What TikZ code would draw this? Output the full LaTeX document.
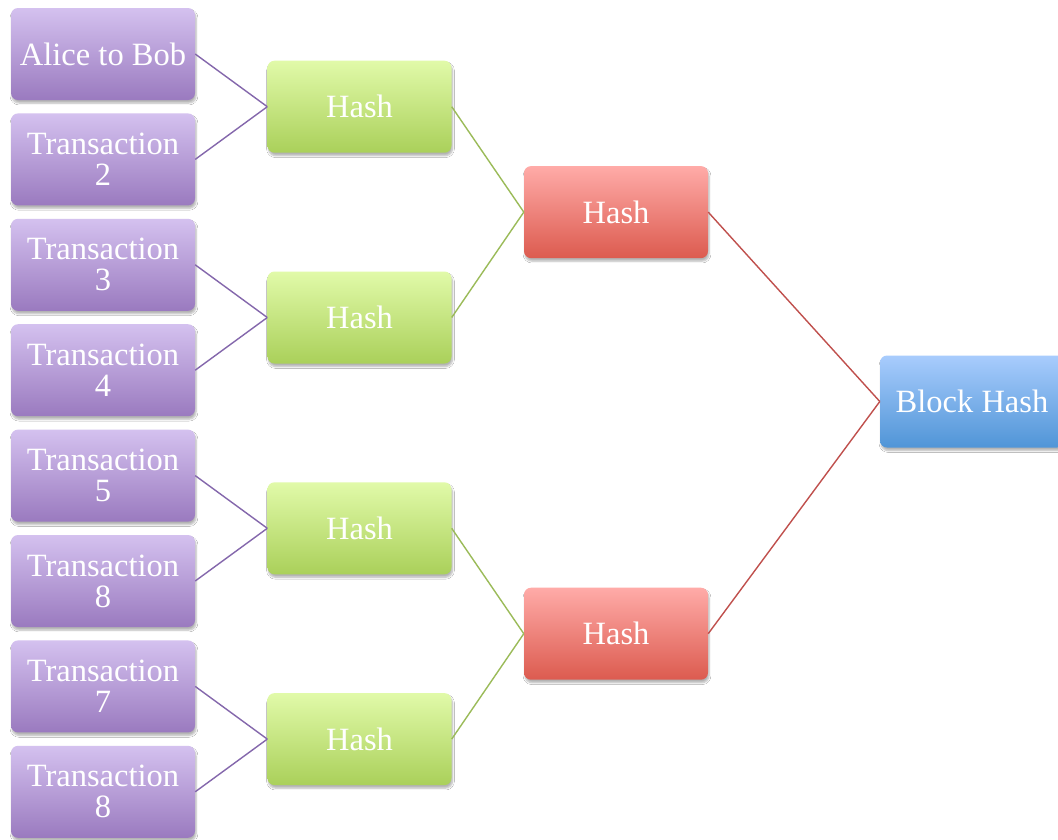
\documentclass[tikz,border=0pt]{standalone}
\usepackage{fontspec}
\setmainfont{Liberation Serif}
\usetikzlibrary{shadows.blur}

\definecolor{txTop}{HTML}{D4C1EF}
\definecolor{txBot}{HTML}{9A7ABF}
\definecolor{txLine}{HTML}{8467AC}
\definecolor{hgTop}{HTML}{E1FAA9}
\definecolor{hgBot}{HTML}{AAD05A}
\definecolor{hgLine}{HTML}{9BBB59}
\definecolor{hrTop}{HTML}{FFABA8}
\definecolor{hrBot}{HTML}{DC5B4F}
\definecolor{hrLine}{HTML}{C0504D}
\definecolor{bbTop}{HTML}{A8CCFD}
\definecolor{bbBot}{HTML}{5095D7}

\tikzset{
  x=1pt, y=-1pt,
  box/.style={rectangle, rounded corners=7pt, minimum width=184pt, minimum height=92pt,
    inner sep=0pt, align=center, text=white, font=\fontsize{32.5}{31}\selectfont,
    blur shadow={shadow xshift=1pt, shadow yshift=-3pt, shadow blur steps=6,
      shadow blur extra rounding=2pt, shadow opacity=30}},
  txbox/.style={box, top color=txTop, bottom color=txBot},
  hgbox/.style={box, top color=hgTop, bottom color=hgBot},
  hrbox/.style={box, top color=hrTop, bottom color=hrBot},
  bbbox/.style={box, top color=bbTop, bottom color=bbBot},
  link/.style={line width=1.4pt}
}

\begin{document}
\begin{tikzpicture}
\useasboundingbox[fill=white] (0,0) rectangle (1058,839);

% leaves
\node[txbox] (t1) at (103,54)    {Alice to Bob};
\node[txbox] (t2) at (103,159.4) {Transaction\\2};
\node[txbox] (t3) at (103,264.8) {Transaction\\3};
\node[txbox] (t4) at (103,370.2) {Transaction\\4};
\node[txbox] (t5) at (103,475.6) {Transaction\\5};
\node[txbox] (t6) at (103,581)   {Transaction\\8};
\node[txbox] (t7) at (103,686.4) {Transaction\\7};
\node[txbox] (t8) at (103,791.8) {Transaction\\8};

% first level hashes
\node[hgbox] (g1) at (359.5,106.7) {Hash};
\node[hgbox] (g2) at (359.5,317.5) {Hash};
\node[hgbox] (g3) at (359.5,528.3) {Hash};
\node[hgbox] (g4) at (359.5,739.1) {Hash};

% second level hashes
\node[hrbox] (r1) at (616,212.1) {Hash};
\node[hrbox] (r2) at (616,633.7) {Hash};

% root
\node[bbbox] (root) at (972,401.5) {Block Hash};

% connectors
\foreach \a/\b in {t1/g1,t2/g1,t3/g2,t4/g2,t5/g3,t6/g3,t7/g4,t8/g4}
  \draw[link, txLine] (\a.east) -- (\b.west);
\foreach \a/\b in {g1/r1,g2/r1,g3/r2,g4/r2}
  \draw[link, hgLine] (\a.east) -- (\b.west);
\foreach \a in {r1,r2}
  \draw[link, hrLine] (\a.east) -- (root.west);
\end{tikzpicture}
\end{document}
